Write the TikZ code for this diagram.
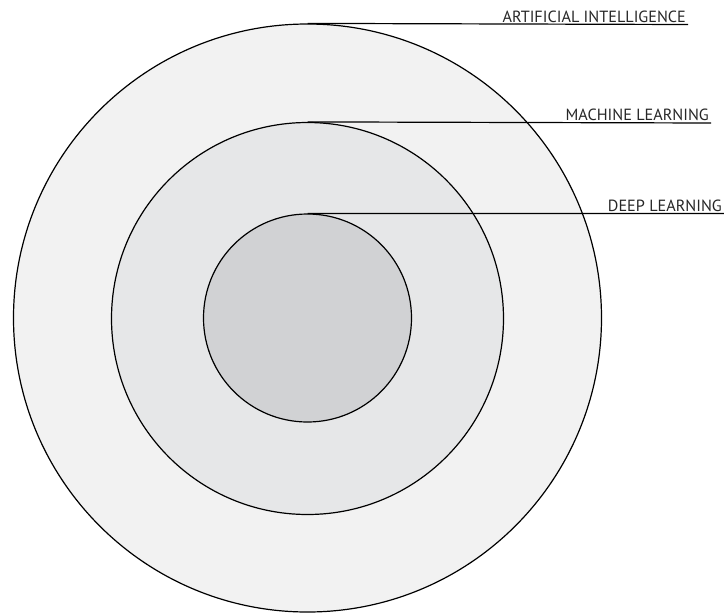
\documentclass[tikz,border=0pt]{standalone}
\usepackage{fontspec}
\setmainfont{PT Sans}
\usepackage{tikz}
\usetikzlibrary{positioning}

\definecolor{aifill}{HTML}{F2F2F2}
\definecolor{mlfill}{HTML}{E6E7E8}
\definecolor{dlfill}{HTML}{D1D2D4}

\tikzset{
	ring/.style={circle, draw=black, line width=1.2pt, inner sep=0pt},
	tag/.style={anchor=south east, inner sep=1.5pt, font=\fontsize{16.2}{18}\selectfont, text=black!85}
}

\begin{document}
\begin{tikzpicture}[x=1pt, y=-1pt]
	\useasboundingbox (0,0) rectangle (724,614);

	\node[ring, fill=aifill, minimum size=588pt] (ai) at (307.5,318) {};
	\node[ring, fill=mlfill, minimum size=392pt] (ml) at (307.5,318.5) {};
	\node[ring, fill=dlfill, minimum size=208pt] (dl) at (307.5,318) {};

	\coordinate (aiend) at (688,24.5);
	\coordinate (mlend) at (711,123);
	\coordinate (dlend) at (724,213.5);

	\draw[line width=1.2pt] (ai.north) -- (aiend) node[tag] {ARTIFICIAL INTELLIGENCE};
	\draw[line width=1.2pt] (ml.north) -- (mlend) node[tag] {MACHINE LEARNING};
	\draw[line width=1.2pt] (dl.north) -- (dlend) node[tag] {DEEP LEARNING};
\end{tikzpicture}
\end{document}
